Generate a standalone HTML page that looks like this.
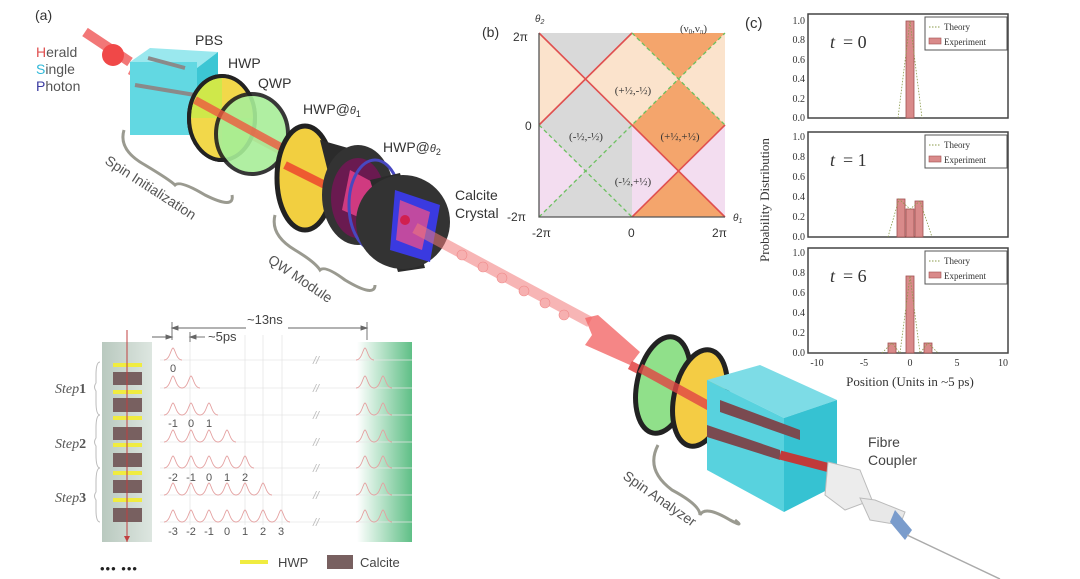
<!DOCTYPE html>
<html><head><meta charset="utf-8"><style>
html,body{margin:0;padding:0;background:#fff;}
svg{display:block;font-family:"Liberation Sans",sans-serif;}
.serif{font-family:"Liberation Serif",serif;}
</style></head><body>
<svg width="1080" height="579" viewBox="0 0 1080 579" xmlns="http://www.w3.org/2000/svg">
<defs>
<linearGradient id="grn" x1="0" x2="1" y1="0" y2="0"><stop offset="0" stop-color="#fff"/><stop offset="1" stop-color="#5fbf86"/></linearGradient>
<linearGradient id="col" x1="0" x2="1"><stop offset="0" stop-color="#b9c9bf"/><stop offset="1" stop-color="#dde6e0"/></linearGradient>
<clipPath id="sq"><rect x="-2" y="-2" width="4" height="4"/></clipPath>
<path id="pk" d="M-9,0 C-3,0 -2,-12 0,-12 C2,-12 3,0 9,0" fill="none" stroke="#e4a0a0" stroke-width="0.9"/>
</defs>

<!-- ===== panel a: apparatus ===== -->
<text x="35" y="20" font-size="14" fill="#333">(a)</text>
<text x="36" y="57" font-size="14" fill="#555"><tspan fill="#e05050">H</tspan>erald</text>
<text x="36" y="74" font-size="14" fill="#555"><tspan fill="#30b8d8">S</tspan>ingle</text>
<text x="36" y="91" font-size="14" fill="#555"><tspan fill="#3a3aa0">P</tspan>hoton</text>
<!-- incoming beam -->
<line x1="85" y1="32" x2="130" y2="62" stroke="#f06060" stroke-width="10" opacity="0.85"/>
<circle cx="113" cy="55" r="11" fill="#f04848"/>
<!-- main beam -->
<line x1="130" y1="70" x2="440" y2="235" stroke="#f06060" stroke-width="9" opacity="0.8"/>
<!-- PBS cube -->
<polygon points="130,62 150,48 218,52 197,68" fill="#9ae8ee"/>
<polygon points="197,68 218,52 218,120 197,135" fill="#3cc6d4"/>
<rect x="130" y="62" width="67" height="73" fill="#62d8e2"/>
<line x1="148" y1="58" x2="185" y2="68" stroke="#8a8a8a" stroke-width="4"/>
<line x1="135" y1="85" x2="195" y2="95" stroke="#8a8a8a" stroke-width="4"/>
<text x="195" y="45" font-size="14" fill="#333">PBS</text>
<!-- HWP -->
<ellipse cx="222" cy="118" rx="33" ry="42" fill="#cfe84a" stroke="#222" stroke-width="4"/>
<path d="M222,118 L222,76 A33,42 0 0 1 255,118Z" fill="#f2d84a"/>
<path d="M222,118 L189,118 A33,42 0 0 0 222,160Z" fill="#f2d84a"/>
<ellipse cx="222" cy="118" rx="33" ry="42" fill="none" stroke="#222" stroke-width="4"/>
<text x="228" y="68" font-size="14" fill="#333">HWP</text>
<!-- QWP -->
<ellipse cx="252" cy="134" rx="36" ry="40" fill="#a8ee98" opacity="0.9" stroke="#222" stroke-width="4"/>
<text x="258" y="88" font-size="14" fill="#333">QWP</text>
<line x1="195" y1="100" x2="290" y2="152" stroke="#ee5a40" stroke-width="8" opacity="0.8"/>
<!-- HWP@θ1 -->
<ellipse cx="305" cy="178" rx="28" ry="52" fill="#f2cf40" stroke="#222" stroke-width="5"/>
<line x1="285" y1="165" x2="325" y2="185" stroke="#ee5a30" stroke-width="8"/>
<text x="303" y="114" font-size="14" fill="#333">HWP@<tspan font-style="italic" font-size="11">θ</tspan><tspan font-size="9" dy="3">1</tspan></text>
<!-- cylinder 1 -->
<path d="M320,140 L355,150 L380,245 L345,240Z" fill="#2b2b2b"/>
<ellipse cx="358" cy="195" rx="36" ry="50" fill="#333"/>
<ellipse cx="358" cy="198" rx="27" ry="40" fill="#6a1a50"/>
<polygon points="350,170 378,185 370,222 342,210" fill="#d03a80"/>
<ellipse cx="375" cy="205" rx="26" ry="45" fill="none" stroke="#4848c0" stroke-width="3"/>
<text x="383" y="152" font-size="14" fill="#333">HWP@<tspan font-style="italic" font-size="11">θ</tspan><tspan font-size="9" dy="3">2</tspan></text>
<!-- cylinder 2 calcite -->
<path d="M370,180 L400,173 L425,268 L398,272Z" fill="#2b2b2b"/>
<ellipse cx="403" cy="222" rx="47" ry="47" fill="#333"/>
<polygon points="395,190 440,205 430,262 390,250" fill="#3a3ae0"/>
<polygon points="400,200 430,212 422,250 396,240" fill="#c04aa0"/>
<circle cx="405" cy="220" r="5" fill="#d02050"/>
<text x="455" y="200" font-size="14" fill="#333">Calcite</text>
<text x="455" y="218" font-size="14" fill="#333">Crystal</text>
<!-- outgoing beam -->
<line x1="415" y1="228" x2="590" y2="322" stroke="#f27a7a" stroke-width="11" opacity="0.55"/>
<g fill="#f6b0b0" stroke="#f08888" stroke-width="0.6">
<circle cx="462" cy="255" r="5"/><circle cx="483" cy="267" r="5"/><circle cx="502" cy="278" r="5"/>
<circle cx="524" cy="291" r="5"/><circle cx="545" cy="303" r="5"/><circle cx="564" cy="315" r="5"/>
</g>
<polygon points="585,318 598,315 640,352 630,365 585,345 592,335" fill="#f26868" opacity="0.8"/>
<!-- braces -->
<path d="M124,130 Q118,150 145,165 Q170,180 175,185 Q180,180 205,195 Q235,210 232,195" fill="none" stroke="#9a9a90" stroke-width="3"/>
<text transform="translate(104,163) rotate(33)" font-size="14" fill="#555">Spin Initialization</text>
<path d="M275,215 Q270,235 295,250 Q315,262 320,270 Q325,265 345,280 Q375,298 375,285" fill="none" stroke="#9a9a90" stroke-width="3"/>
<text transform="translate(267,262) rotate(34)" font-size="14" fill="#555">QW Module</text>

<!-- analyzer -->
<line x1="630" y1="365" x2="830" y2="468" stroke="#e24444" stroke-width="9" opacity="0.85"/>
<ellipse cx="663" cy="385" rx="26" ry="49" fill="#90e08a" stroke="#222" stroke-width="5" transform="rotate(12 663 385)"/>
<ellipse cx="700" cy="398" rx="26" ry="49" fill="#f4cc44" stroke="#222" stroke-width="5" transform="rotate(12 700 398)"/>
<line x1="640" y1="368" x2="720" y2="412" stroke="#e24444" stroke-width="9" opacity="0.8"/>
<polygon points="707,380 760,365 837,400 784,418" fill="#7ddce6"/>
<polygon points="784,418 837,400 837,485 784,512" fill="#36c2d2"/>
<polygon points="707,380 784,418 784,512 707,470" fill="#58d2de"/>
<polygon points="720,400 800,430 800,440 720,412" fill="#7a4a50"/>
<polygon points="707,425 780,450 780,460 707,437" fill="#7a4a50"/>
<line x1="780" y1="455" x2="830" y2="468" stroke="#c03a3a" stroke-width="9"/>
<path d="M658,445 Q645,470 672,490 Q700,505 700,515 Q705,505 730,520 Q745,528 735,520" fill="none" stroke="#9a9a90" stroke-width="3"/>
<text transform="translate(622,478) rotate(35)" font-size="14" fill="#555">Spin Analyzer</text>
<!-- fibre coupler -->
<polygon points="828,462 860,470 872,500 845,510 825,495" fill="#ececec" stroke="#bbb"/>
<polygon points="860,498 875,500 905,512 900,525 870,520" fill="#e8e8e8" stroke="#bbb"/>
<polygon points="895,510 912,530 905,540 890,522" fill="#7a9ccc"/>
<line x1="907" y1="535" x2="1000" y2="579" stroke="#aaa" stroke-width="1.5"/>
<text x="868" y="447" font-size="14" fill="#444">Fibre</text>
<text x="868" y="465" font-size="14" fill="#444">Coupler</text>

<!-- ===== lower left schematic ===== -->
<rect x="102" y="342" width="50" height="200" fill="url(#col)"/>
<rect x="357" y="342" width="55" height="200" fill="url(#grn)"/>
<g fill="#f0ec40">
<rect x="113" y="363" width="29" height="4"/><rect x="113" y="390" width="29" height="4"/><rect x="113" y="416" width="29" height="4"/>
<rect x="113" y="443" width="29" height="4"/><rect x="113" y="471" width="29" height="4"/><rect x="113" y="498" width="29" height="4"/>
</g>
<g fill="#786060">
<rect x="113" y="372" width="29" height="13"/><rect x="113" y="398" width="29" height="14"/><rect x="113" y="427" width="29" height="13"/>
<rect x="113" y="453" width="29" height="14"/><rect x="113" y="480" width="29" height="13"/><rect x="113" y="508" width="29" height="14"/>
</g>
<line x1="127" y1="330" x2="127" y2="542" stroke="#c04040" stroke-width="1"/>
<polygon points="124,536 130,536 127,542" fill="#c04040"/>
<g class="serif" font-size="14" font-style="italic" fill="#555">
<text x="55" y="393">Step<tspan font-weight="bold" font-style="normal">1</tspan></text>
<text x="55" y="448">Step<tspan font-weight="bold" font-style="normal">2</tspan></text>
<text x="55" y="502">Step<tspan font-weight="bold" font-style="normal">3</tspan></text>
</g>
<path d="M100,362 Q96,362 96,375 L96,383 Q93,387 96,391 L96,402 Q96,415 100,415 M100,415 Q96,415 96,428 L96,438 Q93,442 96,446 L96,455 Q96,468 100,468 M100,468 Q96,468 96,482 L96,492 Q93,496 96,500 L96,510 Q96,522 100,522" fill="none" stroke="#bbb" stroke-width="1"/>
<!-- grid -->
<g stroke="#e6e6e6" stroke-width="0.8">
<line x1="160" y1="360" x2="412" y2="360"/><line x1="160" y1="388" x2="412" y2="388"/><line x1="160" y1="415" x2="412" y2="415"/>
<line x1="160" y1="442" x2="412" y2="442"/><line x1="160" y1="468" x2="412" y2="468"/><line x1="160" y1="495" x2="412" y2="495"/><line x1="160" y1="522" x2="412" y2="522"/>
<line x1="190" y1="335" x2="190" y2="525"/><line x1="245" y1="335" x2="245" y2="525"/><line x1="263" y1="335" x2="263" y2="525"/><line x1="282" y1="335" x2="282" y2="525"/>
</g>
<!-- pulses -->
<g>
<use href="#pk" x="173" y="360"/>
<use href="#pk" x="173" y="388"/><use href="#pk" x="191" y="388"/>
<use href="#pk" x="173" y="415"/><use href="#pk" x="191" y="415"/><use href="#pk" x="209" y="415"/>
<use href="#pk" x="173" y="442"/><use href="#pk" x="191" y="442"/><use href="#pk" x="209" y="442"/><use href="#pk" x="227" y="442"/>
<use href="#pk" x="173" y="468"/><use href="#pk" x="191" y="468"/><use href="#pk" x="209" y="468"/><use href="#pk" x="227" y="468"/><use href="#pk" x="245" y="468"/>
<use href="#pk" x="173" y="495"/><use href="#pk" x="191" y="495"/><use href="#pk" x="209" y="495"/><use href="#pk" x="227" y="495"/><use href="#pk" x="245" y="495"/><use href="#pk" x="263" y="495"/>
<use href="#pk" x="173" y="522"/><use href="#pk" x="191" y="522"/><use href="#pk" x="209" y="522"/><use href="#pk" x="227" y="522"/><use href="#pk" x="245" y="522"/><use href="#pk" x="263" y="522"/><use href="#pk" x="281" y="522"/>
<use href="#pk" x="365" y="360"/>
<use href="#pk" x="365" y="388"/><use href="#pk" x="383" y="388"/>
<use href="#pk" x="365" y="415"/><use href="#pk" x="383" y="415"/>
<use href="#pk" x="365" y="442"/><use href="#pk" x="383" y="442"/>
<use href="#pk" x="365" y="468"/><use href="#pk" x="383" y="468"/>
<use href="#pk" x="365" y="495"/><use href="#pk" x="383" y="495"/>
<use href="#pk" x="365" y="522"/><use href="#pk" x="383" y="522"/>
</g>
<g font-size="11" fill="#bbb" font-style="italic"><text x="313" y="364">//</text><text x="313" y="392">//</text><text x="313" y="419">//</text><text x="313" y="446">//</text><text x="313" y="472">//</text><text x="313" y="499">//</text><text x="313" y="526">//</text></g>
<g font-size="11" fill="#555" text-anchor="middle">
<text x="173" y="372">0</text>
<text x="173" y="427">-1</text><text x="191" y="427">0</text><text x="209" y="427">1</text>
<text x="173" y="481">-2</text><text x="191" y="481">-1</text><text x="209" y="481">0</text><text x="227" y="481">1</text><text x="245" y="481">2</text>
<text x="173" y="535">-3</text><text x="191" y="535">-2</text><text x="209" y="535">-1</text><text x="227" y="535">0</text><text x="245" y="535">1</text><text x="263" y="535">2</text><text x="281" y="535">3</text>
</g>
<!-- dimension arrows -->
<g stroke="#666" stroke-width="0.9" fill="#666">
<line x1="172" y1="322" x2="172" y2="340"/><line x1="367" y1="322" x2="367" y2="340"/>
<line x1="172" y1="328" x2="246" y2="328"/><line x1="288" y1="328" x2="367" y2="328"/>
<polygon points="172,328 178,326 178,330"/><polygon points="367,328 361,326 361,330"/>
<line x1="152" y1="337" x2="170" y2="337"/><polygon points="172,337 166,335 166,339"/>
<line x1="190" y1="332" x2="190" y2="342"/>
<line x1="192" y1="337" x2="205" y2="337"/><polygon points="190,337 196,335 196,339"/>
</g>
<text x="247" y="324" font-size="13" fill="#444">~13ns</text>
<text x="208" y="341" font-size="13" fill="#444">~5ps</text>
<!-- legend -->
<rect x="240" y="560" width="28" height="4" fill="#f0ec40"/>
<text x="278" y="567" font-size="13" fill="#444">HWP</text>
<rect x="327" y="555" width="26" height="14" fill="#786060"/>
<text x="360" y="567" font-size="13" fill="#444">Calcite</text>
<text x="100" y="573" font-size="13" fill="#222" letter-spacing="1">••• •••</text>

<!-- ===== panel b ===== -->
<text x="482" y="37" font-size="14" fill="#333">(b)</text>
<g transform="translate(632,125) scale(46.5,-46)">
<g clip-path="url(#sq)">
<rect x="-2" y="-2" width="4" height="4" fill="#f3e0f2"/>
<polygon points="-1,0 0,1 1,0 0,-1" fill="#f3ddf0"/>
<polygon points="-2,2 2,2 2,-2" fill="#fbe3cc"/>
<polygon points="-1,1 0,2 1,1 0,0" fill="#fbe3cc"/>
<polygon points="-2,0 -1,1 0,0 -1,-1" fill="#d9d9d9"/>
<polygon points="0,0 1,1 2,0 1,-1" fill="#f4a56c"/>
<polygon points="-2,2 0,2 -1,1" fill="#d9d9d9"/>
<polygon points="-2,2 -1,1 -2,0" fill="#fbe3cc"/>
<polygon points="0,2 2,2 1,1" fill="#f4a56c"/>
<polygon points="2,2 1,1 2,0" fill="#fbe3cc"/>
<polygon points="-2,0 -1,-1 -2,-2" fill="#f3ddf0"/>
<polygon points="-2,-2 -1,-1 0,-2" fill="#d9d9d9"/>
<polygon points="-1,-1 0,-2 0,0" fill="#d9d9d9"/>
<polygon points="0,-2 2,-2 1,-1" fill="#f4a56c"/>
<polygon points="0,-2 1,-1 0,0" fill="#f3ddf0"/>
<polygon points="2,0 1,-1 2,-2" fill="#f3ddf0"/>
<polygon points="-1,-1 0,0 0,-2" fill="#d9d9d9"/>
<polygon points="-1,-1 -1,-1 0,0 -2,-2" fill="#d9d9d9"/>
<polygon points="0,0 1,-1 0,-2" fill="#f3ddf0"/>
</g>
<g fill="none" vector-effect="non-scaling-stroke">
<line x1="-2" y1="2" x2="2" y2="-2" stroke="#e05050" stroke-width="1.6" vector-effect="non-scaling-stroke"/>
<line x1="-2" y1="0" x2="0" y2="2" stroke="#e05050" stroke-width="1.6" vector-effect="non-scaling-stroke"/>
<line x1="0" y1="-2" x2="2" y2="0" stroke="#e05050" stroke-width="1.6" vector-effect="non-scaling-stroke"/>
<line x1="-2" y1="-2" x2="2" y2="2" stroke="#6cc060" stroke-width="1.3" stroke-dasharray="4 3" vector-effect="non-scaling-stroke"/>
<line x1="-2" y1="0" x2="0" y2="-2" stroke="#6cc060" stroke-width="1.3" stroke-dasharray="4 3" vector-effect="non-scaling-stroke"/>
<line x1="0" y1="2" x2="2" y2="0" stroke="#6cc060" stroke-width="1.3" stroke-dasharray="4 3" vector-effect="non-scaling-stroke"/>
<polyline points="-2,2 -2,-2 2,-2" stroke="#555" stroke-width="1.3" vector-effect="non-scaling-stroke"/>
</g>
</g>
<g font-size="12" fill="#333">
<text x="513" y="41">2π</text><text x="525" y="130">0</text><text x="507" y="221">-2π</text>
<text x="532" y="237">-2π</text><text x="628" y="237">0</text><text x="712" y="237">2π</text>
<text x="733" y="221" font-size="10" font-style="italic">θ<tspan font-size="7" dy="2">1</tspan></text>
<text x="535" y="22" font-size="10" font-style="italic">θ<tspan font-size="7" dy="2">2</tspan></text>
<text x="680" y="32" font-size="11" class="serif">(ν<tspan font-size="7" dy="2">0</tspan><tspan dy="-2">,ν</tspan><tspan font-size="7" dy="2">π</tspan><tspan dy="-2">)</tspan></text>
</g>
<g class="serif" font-size="11" fill="#333" text-anchor="middle">
<text x="633" y="94">(+½,-½)</text>
<text x="586" y="140">(-½,-½)</text>
<text x="680" y="140">(+½,+½)</text>
<text x="633" y="185">(-½,+½)</text>
</g>

<!-- ===== panel c ===== -->
<text x="745" y="28" font-size="15" fill="#333">(c)</text>
<text transform="translate(769,200) rotate(-90)" text-anchor="middle" class="serif" font-size="13" fill="#333">Probability Distribution</text>
<g class="serif" fill="#333">
<!-- plot 1 -->
<rect x="808" y="14" width="200" height="104" fill="none" stroke="#444" stroke-width="1.5"/>
<g font-size="10" text-anchor="end"><text x="805" y="24">1.0</text><text x="805" y="43">0.8</text><text x="805" y="63">0.6</text><text x="805" y="82">0.4</text><text x="805" y="102">0.2</text><text x="805" y="121">0.0</text></g>
<rect x="906" y="21" width="8" height="97" fill="#d98a8a" stroke="#a05050" stroke-width="0.8"/>
<polyline points="898,118 910,21 922,118" fill="none" stroke="#8a9a4a" stroke-dasharray="1.5 1.5" stroke-width="0.8"/>
<text x="830" y="48" font-size="18" font-style="italic">t</text><text x="843" y="48" font-size="18">= 0</text>
<rect x="925" y="17" width="82" height="33" fill="#fff" stroke="#555"/>
<line x1="929" y1="27" x2="941" y2="27" stroke="#8a9a4a" stroke-dasharray="1.5 1.5"/>
<rect x="929" y="38" width="12" height="6" fill="#d98a8a" stroke="#a05050" stroke-width="0.6"/>
<text x="944" y="30" font-size="9">Theory</text><text x="944" y="45" font-size="9">Experiment</text>
<!-- plot 2 -->
<rect x="808" y="132" width="200" height="105" fill="none" stroke="#444" stroke-width="1.5"/>
<g font-size="10" text-anchor="end"><text x="805" y="140">1.0</text><text x="805" y="160">0.8</text><text x="805" y="180">0.6</text><text x="805" y="200">0.4</text><text x="805" y="220">0.2</text><text x="805" y="240">0.0</text></g>
<rect x="897" y="199" width="8" height="38" fill="#d98a8a" stroke="#a05050" stroke-width="0.8"/>
<rect x="906" y="209" width="8" height="28" fill="#d98a8a" stroke="#a05050" stroke-width="0.8"/>
<rect x="915" y="201" width="8" height="36" fill="#d98a8a" stroke="#a05050" stroke-width="0.8"/>
<polyline points="888,237 899,199 910,209 920,201 932,237" fill="none" stroke="#8a9a4a" stroke-dasharray="1.5 1.5" stroke-width="0.8"/>
<text x="830" y="166" font-size="18" font-style="italic">t</text><text x="843" y="166" font-size="18">= 1</text>
<rect x="925" y="135" width="82" height="33" fill="#fff" stroke="#555"/>
<line x1="929" y1="145" x2="941" y2="145" stroke="#8a9a4a" stroke-dasharray="1.5 1.5"/>
<rect x="929" y="156" width="12" height="6" fill="#d98a8a" stroke="#a05050" stroke-width="0.6"/>
<text x="944" y="148" font-size="9">Theory</text><text x="944" y="163" font-size="9">Experiment</text>
<!-- plot 3 -->
<rect x="808" y="248" width="200" height="105" fill="none" stroke="#444" stroke-width="1.5"/>
<g font-size="10" text-anchor="end"><text x="805" y="256">1.0</text><text x="805" y="276">0.8</text><text x="805" y="296">0.6</text><text x="805" y="316">0.4</text><text x="805" y="336">0.2</text><text x="805" y="356">0.0</text></g>
<rect x="888" y="343" width="8" height="10" fill="#d98a8a" stroke="#a05050" stroke-width="0.8"/>
<rect x="906" y="276" width="8" height="77" fill="#d98a8a" stroke="#a05050" stroke-width="0.8"/>
<rect x="924" y="343" width="8" height="10" fill="#d98a8a" stroke="#a05050" stroke-width="0.8"/>
<polyline points="882,353 892,343 900,353 910,276 920,353 928,343 938,353" fill="none" stroke="#8a9a4a" stroke-dasharray="1.5 1.5" stroke-width="0.8"/>
<text x="830" y="282" font-size="18" font-style="italic">t</text><text x="843" y="282" font-size="18">= 6</text>
<rect x="925" y="251" width="82" height="33" fill="#fff" stroke="#555"/>
<line x1="929" y1="261" x2="941" y2="261" stroke="#8a9a4a" stroke-dasharray="1.5 1.5"/>
<rect x="929" y="272" width="12" height="6" fill="#d98a8a" stroke="#a05050" stroke-width="0.6"/>
<text x="944" y="264" font-size="9">Theory</text><text x="944" y="279" font-size="9">Experiment</text>
<g font-size="10" text-anchor="middle"><text x="817" y="366">-10</text><text x="864" y="366">-5</text><text x="910" y="366">0</text><text x="957" y="366">5</text><text x="1003" y="366">10</text></g>
<text x="910" y="386" font-size="13" text-anchor="middle">Position (Units in ~5 ps)</text>
</g>
</svg>
</body></html>
